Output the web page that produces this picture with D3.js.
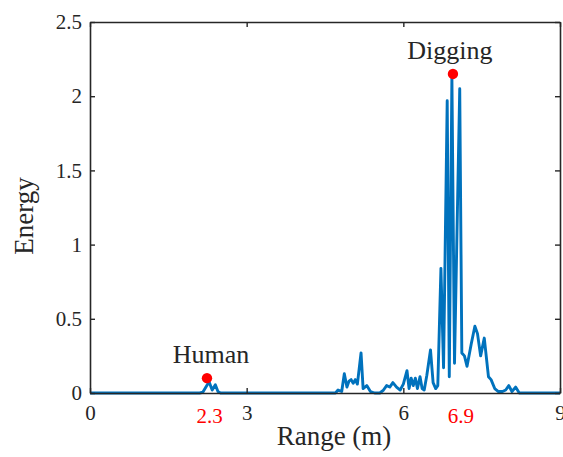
<!DOCTYPE html>
<html lang="en">

<head>
    <meta charset="UTF-8">
    <title>Energy vs Range</title>
    <style>
        html, body {
            margin: 0;
            padding: 0;
            background: #fff;
        }

        text {
            font-family: "Liberation Serif", "Times New Roman", serif;
            fill: #262626;
        }

        .tick line {
            stroke: #262626;
        }
    </style>
</head>

<body>
    <div id="wrapper"></div>

    <script src="https://d3js.org/d3.v7.min.js"></script>
    <script>
        // 資料：距離(m) 與 能量
        const rangeM = [0, 2.10, 2.16, 2.22, 2.28, 2.34, 2.40, 2.45, 2.50,
            4.70, 4.75, 4.82, 4.87, 4.92, 4.96, 5.00, 5.04, 5.08, 5.12, 5.19, 5.23, 5.30, 5.37, 5.45,
            5.55, 5.62, 5.68, 5.74, 5.80, 5.87, 5.94, 6.00, 6.07, 6.11, 6.15, 6.19, 6.23, 6.27, 6.32,
            6.36, 6.40, 6.45, 6.52, 6.57, 6.62, 6.66, 6.72, 6.77, 6.84, 6.88, 6.93, 6.98, 7.08, 7.12,
            7.17, 7.22, 7.30, 7.37, 7.42, 7.48, 7.55, 7.63, 7.68, 7.75, 7.82, 7.90, 7.96, 8.02, 8.08,
            8.15, 8.22, 9
        ];
        const energy = [0, 0, 0.005, 0.04, 0.075, 0.02, 0.055, 0.01, 0,
            0, 0.02, 0.01, 0.13, 0.04, 0.08, 0.09, 0.065, 0.09, 0.06, 0.27, 0.03, 0.05, 0.01, 0,
            0, 0.02, 0.05, 0.04, 0.07, 0.04, 0.02, 0.06, 0.15, 0.03, 0.10, 0.05, 0.10, 0.03, 0.11,
            0.03, 0.02, 0.12, 0.29, 0.07, 0.03, 0.05, 0.84, 0.17, 1.97, 0.11, 2.13, 0.20, 2.05, 0.27,
            0.25, 0.18, 0.33, 0.45, 0.40, 0.25, 0.37, 0.11, 0.09, 0.03, 0.01, 0.01, 0.02, 0.05, 0.01,
            0.04, 0, 0
        ];

        const xTicks = [0, 3, 6, 9];
        const yTicks = [0, 0.5, 1, 1.5, 2, 2.5];

        // 標記點
        const markNames = ["Human", "Digging"];
        const markRange = [2.24, 6.95];
        const markEnergy = [0.1, 2.15];

        // 紅色距離標籤 (文字, 位置)
        const redLabels = ["2.3", "6.9"];
        const redLabelAt = [2.29, 7.1];

        const width = 563,
            height = 457;
        const margin = { top: 22, right: 3, bottom: 64, left: 90 };
        const innerW = width - margin.left - margin.right,
            innerH = height - margin.top - margin.bottom;

        const svg = d3.select('#wrapper').append('svg')
            .attr('width', width)
            .attr('height', height);

        const xScale = d3.scaleLinear().domain([0, 9]).range([0, innerW]);
        const yScale = d3.scaleLinear().domain([0, 2.5]).range([innerH, 0]);

        const g = svg.append('g')
            .attr('transform', `translate(${margin.left},${margin.top})`);

        // 折線
        const data = rangeM.map((r, i) => ({ r: r, e: energy[i] }));
        const line = d3.line()
            .x(d => xScale(d.r))
            .y(d => yScale(d.e));

        g.append('path')
            .attr('d', line(data))
            .attr('fill', 'none')
            .attr('stroke', '#0072BD')
            .attr('stroke-width', 2.9)
            .attr('stroke-linejoin', 'round');

        // 軸 (刻度朝內)
        const xAxis = d3.axisBottom(xScale).tickValues(xTicks).tickSizeInner(-5).tickSizeOuter(0).tickPadding(12);
        const yAxis = d3.axisLeft(yScale).tickValues(yTicks).tickSizeInner(-5).tickSizeOuter(0).tickPadding(8)
            .tickFormat(d3.format('~g'));
        const topAxis = d3.axisTop(xScale).tickValues(xTicks).tickSizeInner(-5).tickSizeOuter(0).tickFormat('');
        const rightAxis = d3.axisRight(yScale).tickValues(yTicks).tickSizeInner(-5).tickSizeOuter(0).tickFormat('');

        const axes = [
            g.append('g').attr('transform', `translate(0,${innerH})`).call(xAxis),
            g.append('g').call(yAxis),
            g.append('g').call(topAxis),
            g.append('g').attr('transform', `translate(${innerW},0)`).call(rightAxis)
        ];
        axes.forEach(a => {
            a.select('.domain').attr('stroke', '#262626').attr('stroke-width', 1.6);
            a.selectAll('.tick line').attr('stroke-width', 1.4);
            a.selectAll('.tick text')
                .style('font-family', '"Liberation Serif", serif')
                .style('font-size', '21px')
                .attr('fill', '#262626');
        });

        // 紅色標籤
        g.selectAll('.red-label')
            .data(redLabels)
            .join('text')
            .attr('class', 'red-label')
            .attr('x', (d, i) => xScale(redLabelAt[i]))
            .attr('y', innerH + 30)
            .attr('text-anchor', 'middle')
            .style('font-size', '21px')
            .style('fill', '#ff0000')
            .text(d => d);

        // 紅點與名稱
        g.selectAll('.mark')
            .data(markNames)
            .join('circle')
            .attr('class', 'mark')
            .attr('cx', (d, i) => xScale(markRange[i]))
            .attr('cy', (d, i) => yScale(markEnergy[i]))
            .attr('r', 5.2)
            .attr('fill', '#ff0000');

        g.selectAll('.mark-label')
            .data(markNames)
            .join('text')
            .attr('class', 'mark-label')
            .attr('x', (d, i) => xScale(markRange[i]) + (i === 0 ? 4 : -3))
            .attr('y', (d, i) => yScale(markEnergy[i]) - 15)
            .attr('text-anchor', 'middle')
            .style('font-size', '26px')
            .text(d => d);

        // 軸標籤
        svg.append('text')
            .attr('x', 334)
            .attr('y', 445)
            .attr('text-anchor', 'middle')
            .style('font-size', '27px')
            .text('Range (m)');

        svg.append('text')
            .attr('transform', 'translate(33,216) rotate(-90)')
            .attr('text-anchor', 'middle')
            .style('font-size', '27px')
            .text('Energy');
    </script>
</body>

</html>
